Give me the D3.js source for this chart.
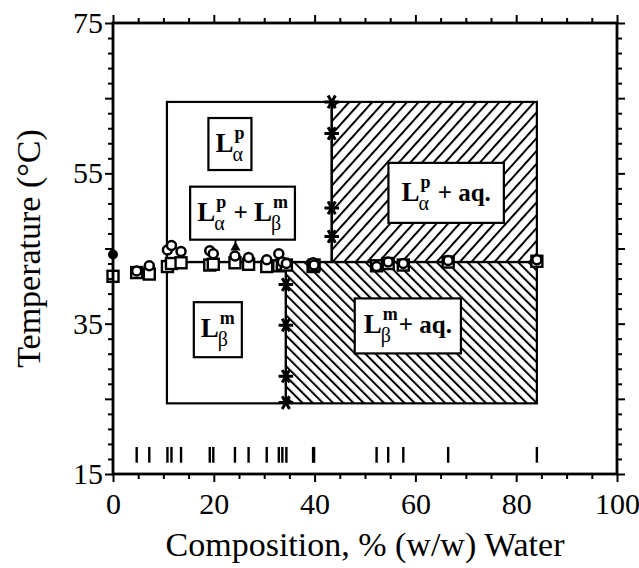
<!DOCTYPE html>
<html>
<head>
<meta charset="utf-8">
<script src="https://cdn.jsdelivr.net/npm/d3@7"></script>
<style>
body { margin: 0; background: #fff; }
text { font-family: "Liberation Serif", "Times New Roman", serif; fill: #000; }
</style>
</head>
<body>
<div id="chart"></div>
<script>
// compositions (% w/w water) of the samples, also shown as the rug at the bottom
const compositions = [4.7, 7.2, 10.8, 11.6, 13.5, 19.2, 19.9, 24.2, 26.9, 30.5, 32.9, 33.6, 34.4, 39.7, 39.9, 52.3, 54.6, 57.6, 66.5, 84.1];
const circleTemps = [42.0, 42.7, 44.8, 45.4, 44.6, 44.7, 44.3, 44.0, 43.8, 43.5, 44.3, 43.2, 43.0, 43.1, 42.8, 42.6, 43.2, 43.0, 43.4, 43.5];
const squareTemps = [41.8, 41.6, 42.6, 43.0, 43.1, 42.8, 42.9, 43.1, 42.9, 42.6, 42.7, 42.9, 42.8, 42.6, 42.8, 42.7, 43.0, 42.8, 43.2, 43.3];
// dry lipid
const dryComp = [0];
const dryFilledTemps = [44.2];
const drySquareTemps = [41.3];

// phase boundaries
const boundaryComp = [10.7, 34.3, 43.4, 84.1];   // left edge, lower limit, upper limit, right edge
const boundaryTemp = [24.4, 43.2, 64.5];         // bottom, transition, top
const upperLimitTemps = [64.5, 60.3, 50.4, 46.6]; // asterisks at 43.4 %
const lowerLimitTemps = [40.2, 34.8, 28.0, 24.5]; // asterisks at 34.3 %
const rugTemps = [16.5, 18.6];

// phase labels
const labelComp = [23.2, 25.7, 20.8, 66.1, 58.5];
const labelTemp = [58.9, 49.7, 34.2, 52.4, 34.7];
const labelParts = [
    [["L", "α", "p"]],
    [["L", "α", "p"], "\u00a0+\u00a0", ["L", "β", "m"]],
    [["L", "β", "m"]],
    [["L", "α", "p"], "\u00a0+ aq."],
    [["L", "β", "m"], "+ aq."]
];
const pointerComp = 24.3;
const pointerTemp = 45.4;

const xTicks = d3.range(0, 101, 5);
const yTicks = d3.range(15, 76, 2);
const xLabels = [0, 20, 40, 60, 80, 100];
const yLabels = [15, 35, 55, 75];

let w = 639;
let h = 568;
let mLeft = 113, mRight = 617, mTop = 23, mBottom = 474;
// extra box padding per label [x, y]
let labelPad = [[7, 5], [7, 5], [7, 6], [13, 9], [9, 6]];

let svg = d3.select("#chart")
    .append("svg")
    .attr("width", w)
    .attr("height", h);

let x = d3.scaleLinear().domain([0, 100]).range([mLeft, mRight]);
let y = d3.scaleLinear().domain([15, 75]).range([mBottom, mTop]);

let defs = svg.append("defs");
function hatch(id, angle, gap) {
    defs.append("pattern")
        .attr("id", id)
        .attr("patternUnits", "userSpaceOnUse")
        .attr("width", gap)
        .attr("height", gap)
        .attr("patternTransform", "rotate(" + angle + ")")
        .append("line")
        .attr("x1", 1).attr("y1", 0)
        .attr("x2", 1).attr("y2", gap)
        .attr("stroke", "#000")
        .attr("stroke-width", 2);
}
hatch("hatchUp", 42, 8.6);
hatch("hatchDown", -45, 7.2);

// phase regions
let regions = [
    {x0: boundaryComp[0], x1: boundaryComp[2], t0: boundaryTemp[1], t1: boundaryTemp[2], fill: "none"},
    {x0: boundaryComp[0], x1: boundaryComp[1], t0: boundaryTemp[0], t1: boundaryTemp[1], fill: "none"},
    {x0: boundaryComp[2], x1: boundaryComp[3], t0: boundaryTemp[1], t1: boundaryTemp[2], fill: "url(#hatchUp)"},
    {x0: boundaryComp[1], x1: boundaryComp[3], t0: boundaryTemp[0], t1: boundaryTemp[1], fill: "url(#hatchDown)"}
];
svg.selectAll("rect.region")
    .data(regions)
    .enter()
    .append("rect")
    .attr("class", "region")
    .attr("x", function (d) { return x(d.x0); })
    .attr("y", function (d) { return y(d.t1); })
    .attr("width", function (d) { return x(d.x1) - x(d.x0); })
    .attr("height", function (d) { return y(d.t0) - y(d.t1); })
    .attr("fill", function (d) { return d.fill; })
    .attr("stroke", "#000")
    .attr("stroke-width", 2.2);

// rug of sample compositions
svg.selectAll("line.rug")
    .data(compositions)
    .enter()
    .append("line")
    .attr("class", "rug")
    .attr("x1", function (d) { return x(d); })
    .attr("x2", function (d) { return x(d); })
    .attr("y1", y(rugTemps[0]))
    .attr("y2", y(rugTemps[1]))
    .attr("stroke", "#000")
    .attr("stroke-width", 2.4);

// labels
function drawLabel(g, parts, pad) {
    let inner = g.append("g");
    let cx = 0;
    parts.forEach(function (p) {
        if (typeof p === "string") {
            let t = inner.append("text")
                .attr("x", cx).attr("y", 0)
                .attr("font-size", 25)
                .attr("font-weight", "bold")
                .text(p);
            cx += t.node().getComputedTextLength();
        } else {
            let L = inner.append("text")
                .attr("x", cx).attr("y", 0)
                .attr("font-size", 27)
                .attr("font-weight", "bold")
                .text(p[0]);
            cx += L.node().getComputedTextLength() - 1;
            let sub = inner.append("text")
                .attr("x", cx).attr("y", 9)
                .attr("font-size", 20)
                .text(p[1]);
            let sup = inner.append("text")
                .attr("x", cx + 2).attr("y", -13)
                .attr("font-size", 18)
                .attr("font-weight", "bold")
                .text(p[2]);
            cx += Math.max(sub.node().getComputedTextLength(), sup.node().getComputedTextLength() + 2) + 1;
        }
    });
    let bb = inner.node().getBBox();
    inner.attr("transform", "translate(" + (-bb.x - bb.width / 2) + "," + (-bb.y - bb.height / 2) + ")");
    g.insert("rect", "g")
        .attr("x", -bb.width / 2 - pad[0])
        .attr("y", -bb.height / 2 - pad[1])
        .attr("width", bb.width + 2 * pad[0])
        .attr("height", bb.height + 2 * pad[1])
        .attr("fill", "#fff")
        .attr("stroke", "#000")
        .attr("stroke-width", 2.2);
}

// pointer from mixed-phase label to the transition
svg.append("line")
    .attr("x1", x(pointerComp)).attr("x2", x(pointerComp))
    .attr("y1", y(labelTemp[1]) + 20).attr("y2", y(pointerTemp))
    .attr("stroke", "#000")
    .attr("stroke-width", 2);
svg.append("path")
    .attr("d", d3.symbol().type(d3.symbolTriangle).size(45)())
    .attr("transform", "translate(" + x(pointerComp) + "," + (y(pointerTemp) + 2) + ")")
    .attr("fill", "#000");

labelParts.forEach(function (parts, i) {
    let g = svg.append("g")
        .attr("transform", "translate(" + x(labelComp[i]) + "," + y(labelTemp[i]) + ")");
    drawLabel(g, parts, labelPad[i]);
});

// data points
svg.selectAll("rect.sq")
    .data(compositions.map(function (c, i) { return [c, squareTemps[i]]; })
        .concat(dryComp.map(function (c, i) { return [c, drySquareTemps[i]]; })))
    .enter()
    .append("rect")
    .attr("class", "sq")
    .attr("x", function (d) { return x(d[0]) - 5.5; })
    .attr("y", function (d) { return y(d[1]) - 5.5; })
    .attr("width", 11)
    .attr("height", 11)
    .attr("fill", "#fff")
    .attr("stroke", "#000")
    .attr("stroke-width", 2.4);

svg.selectAll("circle.open")
    .data(compositions.map(function (c, i) { return [c, circleTemps[i]]; }))
    .enter()
    .append("circle")
    .attr("class", "open")
    .attr("cx", function (d) { return x(d[0]); })
    .attr("cy", function (d) { return y(d[1]); })
    .attr("r", 4.5)
    .attr("fill", "#fff")
    .attr("stroke", "#000")
    .attr("stroke-width", 2.5);

svg.selectAll("circle.filled")
    .data(dryComp.map(function (c, i) { return [c, dryFilledTemps[i]]; }))
    .enter()
    .append("circle")
    .attr("class", "filled")
    .attr("cx", function (d) { return x(d[0]); })
    .attr("cy", function (d) { return y(d[1]); })
    .attr("r", 5)
    .attr("fill", "#000");

// phase limit asterisks
let star = d3.symbol().type(d3.symbolAsterisk).size(150)();
let stars = upperLimitTemps.map(function (t) { return [boundaryComp[2], t]; })
    .concat(lowerLimitTemps.map(function (t) { return [boundaryComp[1], t]; }));
svg.selectAll("path.star")
    .data(stars)
    .enter()
    .append("path")
    .attr("class", "star")
    .attr("d", star)
    .attr("transform", function (d) { return "translate(" + x(d[0]) + "," + y(d[1]) + ") rotate(90)"; })
    .attr("fill", "none")
    .attr("stroke", "#000")
    .attr("stroke-width", 3);

// axes
function tickLen(v, isX) {
    if (isX) return v % 20 === 0 ? 8 : 5;
    return (v - 15) % 10 === 0 ? 8 : 5;
}
let fmtX = function (d) { return xLabels.indexOf(d) >= 0 ? d : ""; };
let fmtY = function (d) { return yLabels.indexOf(d) >= 0 ? d : ""; };

let axB = svg.append("g").attr("transform", "translate(0," + mBottom + ")")
    .call(d3.axisBottom(x).tickValues(xTicks).tickFormat(fmtX).tickSize(8).tickPadding(11));
let axT = svg.append("g").attr("transform", "translate(0," + mTop + ")")
    .call(d3.axisTop(x).tickValues(xTicks).tickFormat("").tickSize(8));
let axL = svg.append("g").attr("transform", "translate(" + mLeft + ",0)")
    .call(d3.axisLeft(y).tickValues(yTicks).tickFormat(fmtY).tickSize(8).tickPadding(2));
let axR = svg.append("g").attr("transform", "translate(" + mRight + ",0)")
    .call(d3.axisRight(y).tickValues(yTicks).tickFormat("").tickSize(8));

[axB, axT, axL, axR].forEach(function (ax, k) {
    ax.select(".domain").remove();
    ax.selectAll(".tick line")
        .attr("stroke-width", 2)
        .each(function (d) {
            let len = tickLen(d, k < 2);
            let line = d3.select(this);
            if (k === 0) line.attr("y2", len);
            if (k === 1) line.attr("y2", -len);
            if (k === 2) line.attr("x2", -len);
            if (k === 3) line.attr("x2", len);
        });
    ax.selectAll(".tick text")
        .attr("font-family", "Liberation Serif, serif")
        .attr("font-size", 30)
        .attr("fill", "#000");
});

svg.append("rect")
    .attr("x", mLeft).attr("y", mTop)
    .attr("width", mRight - mLeft).attr("height", mBottom - mTop)
    .attr("fill", "none")
    .attr("stroke", "#000")
    .attr("stroke-width", 2.8);

svg.append("text")
    .attr("x", (mLeft + mRight) / 2)
    .attr("y", 556)
    .attr("text-anchor", "middle")
    .attr("font-size", 34)
    .text("Composition, % (w/w) Water");

svg.append("text")
    .attr("transform", "translate(40," + ((mTop + mBottom) / 2) + ") rotate(-90)")
    .attr("text-anchor", "middle")
    .attr("font-size", 34)
    .text("Temperature (°C)");
</script>
</body>
</html>
